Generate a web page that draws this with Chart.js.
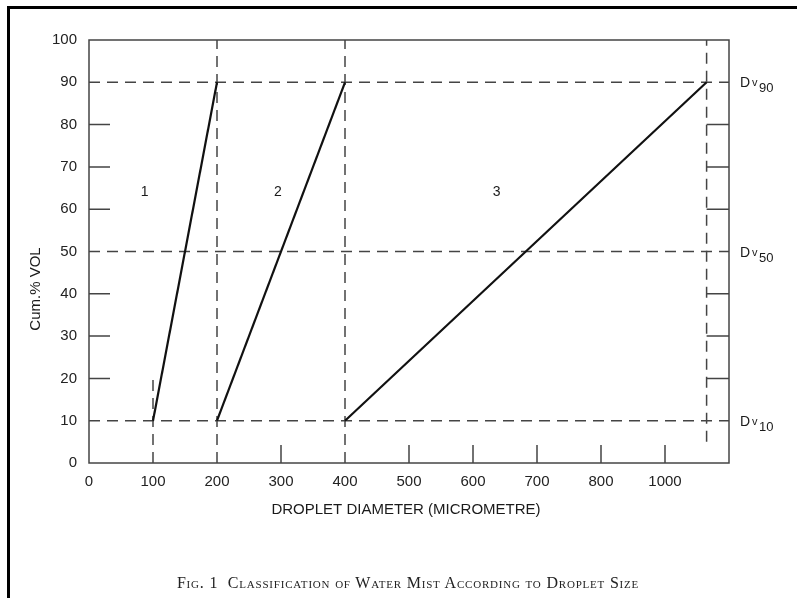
<!DOCTYPE html>
<html lang="en">
<head>
<meta charset="UTF-8">
<title>Classification of Water Mist</title>
<script src="https://cdn.jsdelivr.net/npm/chart.js@4"></script>
<style>
  body { margin: 0; background: #fff; }
  .wrap { position: relative; width: 797px; height: 598px; overflow: hidden; }
  .frame { position: absolute; left: 7px; top: 6px; width: 900px; height: 700px;
           border-left: 3px solid #000; border-top: 3px solid #000; }
  canvas { position: absolute; left: 0; top: 0; }
  .caption { position: absolute; left: 0; width: 816px; top: 574px; text-align: center;
             font-family: "Liberation Serif", serif; font-variant: small-caps;
             font-size: 16px; color: #222; letter-spacing: 0.8px; }
</style>
</head>
<body>
<div class="wrap">
  <div class="frame"></div>
  <canvas id="chart" width="797" height="598"></canvas>
  <div class="caption">Fig. 1&nbsp; Classification of Water Mist According to Droplet Size</div>
</div>
<script>
// tick labels as printed on the figure
const xTickLabels = ['0', '100', '200', '300', '400', '500', '600', '700', '800', '1000'];
// droplet classes 1..3 : diameter at Dv10 and at Dv90
const classNames = ['1', '2', '3'];
const classStartX = [100, 200, 400];
const classEndX = [200, 400, 965];
const classLabelX = [87, 295, 637];
const classLabelY = 64;
// Dv levels (cum. % vol)
const dvLevels = [10, 50, 90];
const dvSubs = ['10', '50', '90'];
// dashed vertical guides
const guideX = [100, 200, 400, 965];
const guideFrom = [0, 0, 0, 5];
const guideTo = [20, 100, 100, 100];
// short inner tick marks
const minorY = [20, 30, 40, 60, 70, 80];
const minorX = [300, 500, 600, 700, 800, 900];

const dash = [11, 7];
const datasets = [];
classNames.forEach((n, i) => {
  datasets.push({
    label: 'Class ' + n,
    data: [{ x: classStartX[i], y: dvLevels[0] }, { x: classEndX[i], y: dvLevels[2] }],
    showLine: true, borderColor: '#111', borderWidth: 2.2, pointRadius: 0
  });
});
dvLevels.forEach(v => {
  datasets.push({
    data: [{ x: 0, y: v }, { x: 1000, y: v }],
    showLine: true, borderColor: '#444', borderWidth: 1.5, borderDash: dash, pointRadius: 0
  });
});
guideX.forEach((x, i) => {
  datasets.push({
    data: [{ x: x, y: guideFrom[i] }, { x: x, y: guideTo[i] }],
    showLine: true, borderColor: '#444', borderWidth: 1.5, borderDash: dash, pointRadius: 0
  });
});

const decor = {
  id: 'decor',
  afterDatasetsDraw(chart) {
    const { ctx, chartArea: a, scales: { x, y } } = chart;
    ctx.save();
    ctx.strokeStyle = '#444';
    ctx.lineWidth = 1.5;
    ctx.strokeRect(a.left, a.top, a.right - a.left, a.bottom - a.top);
    ctx.beginPath();
    minorY.forEach(v => {
      const py = y.getPixelForValue(v);
      ctx.moveTo(a.left, py); ctx.lineTo(a.left + 21, py);
      ctx.moveTo(x.getPixelForValue(guideX[3]), py); ctx.lineTo(a.right, py);
    });
    minorX.forEach(v => {
      const px = x.getPixelForValue(v);
      ctx.moveTo(px, a.bottom); ctx.lineTo(px, a.bottom - 18);
    });
    ctx.stroke();

    ctx.fillStyle = '#1a1a1a';
    ctx.textAlign = 'center';
    ctx.textBaseline = 'middle';
    ctx.font = '14px "Liberation Sans", Arial, sans-serif';
    classNames.forEach((n, i) => {
      ctx.fillText(n, x.getPixelForValue(classLabelX[i]), y.getPixelForValue(classLabelY));
    });

    ctx.font = '15px "Liberation Sans", Arial, sans-serif';
    ctx.fillText('DROPLET DIAMETER (MICROMETRE)', (a.left + a.right) / 2 - 3, 510);

    ctx.save();
    ctx.translate(36, 289);
    ctx.rotate(-Math.PI / 2);
    ctx.font = '15px "Liberation Sans", Arial, sans-serif';
    ctx.fillText('Cum.% VOL', 0, 0);
    ctx.restore();

    ctx.textAlign = 'left';
    ctx.textBaseline = 'alphabetic';
    dvLevels.forEach((v, i) => {
      const py = y.getPixelForValue(v) + 5;
      ctx.font = '14px "Liberation Sans", Arial, sans-serif';
      ctx.fillText('D', 740, py);
      ctx.font = '11px "Liberation Sans", Arial, sans-serif';
      ctx.fillText('v', 752, py - 1);
      ctx.font = '13px "Liberation Sans", Arial, sans-serif';
      ctx.fillText(dvSubs[i], 759, py + 5);
    });
    ctx.restore();
  }
};

new Chart(document.getElementById('chart'), {
  type: 'scatter',
  data: { datasets: datasets },
  options: {
    responsive: false,
    animation: false,
    layout: { padding: { top: 40, right: 68, left: 0, bottom: 0 } },
    plugins: { legend: { display: false }, tooltip: { enabled: false } },
    scales: {
      x: {
        type: 'linear', min: 0, max: 1000,
        afterFit: s => { s.height = 135; },
        grid: { display: false, drawTicks: false },
        border: { display: false },
        ticks: {
          stepSize: 100, padding: 10, color: '#222',
          font: { family: '"Liberation Sans", Arial, sans-serif', size: 15 },
          maxRotation: 0, autoSkip: false,
          callback: (v, i) => xTickLabels[i] || ''
        }
      },
      y: {
        type: 'linear', min: 0, max: 100,
        afterFit: s => { s.width = 89; },
        grid: { display: false, drawTicks: false },
        border: { display: false },
        ticks: {
          stepSize: 10, padding: 12, color: '#222',
          font: { family: '"Liberation Sans", Arial, sans-serif', size: 15 }
        }
      }
    }
  },
  plugins: [decor]
});
</script>
</body>
</html>
